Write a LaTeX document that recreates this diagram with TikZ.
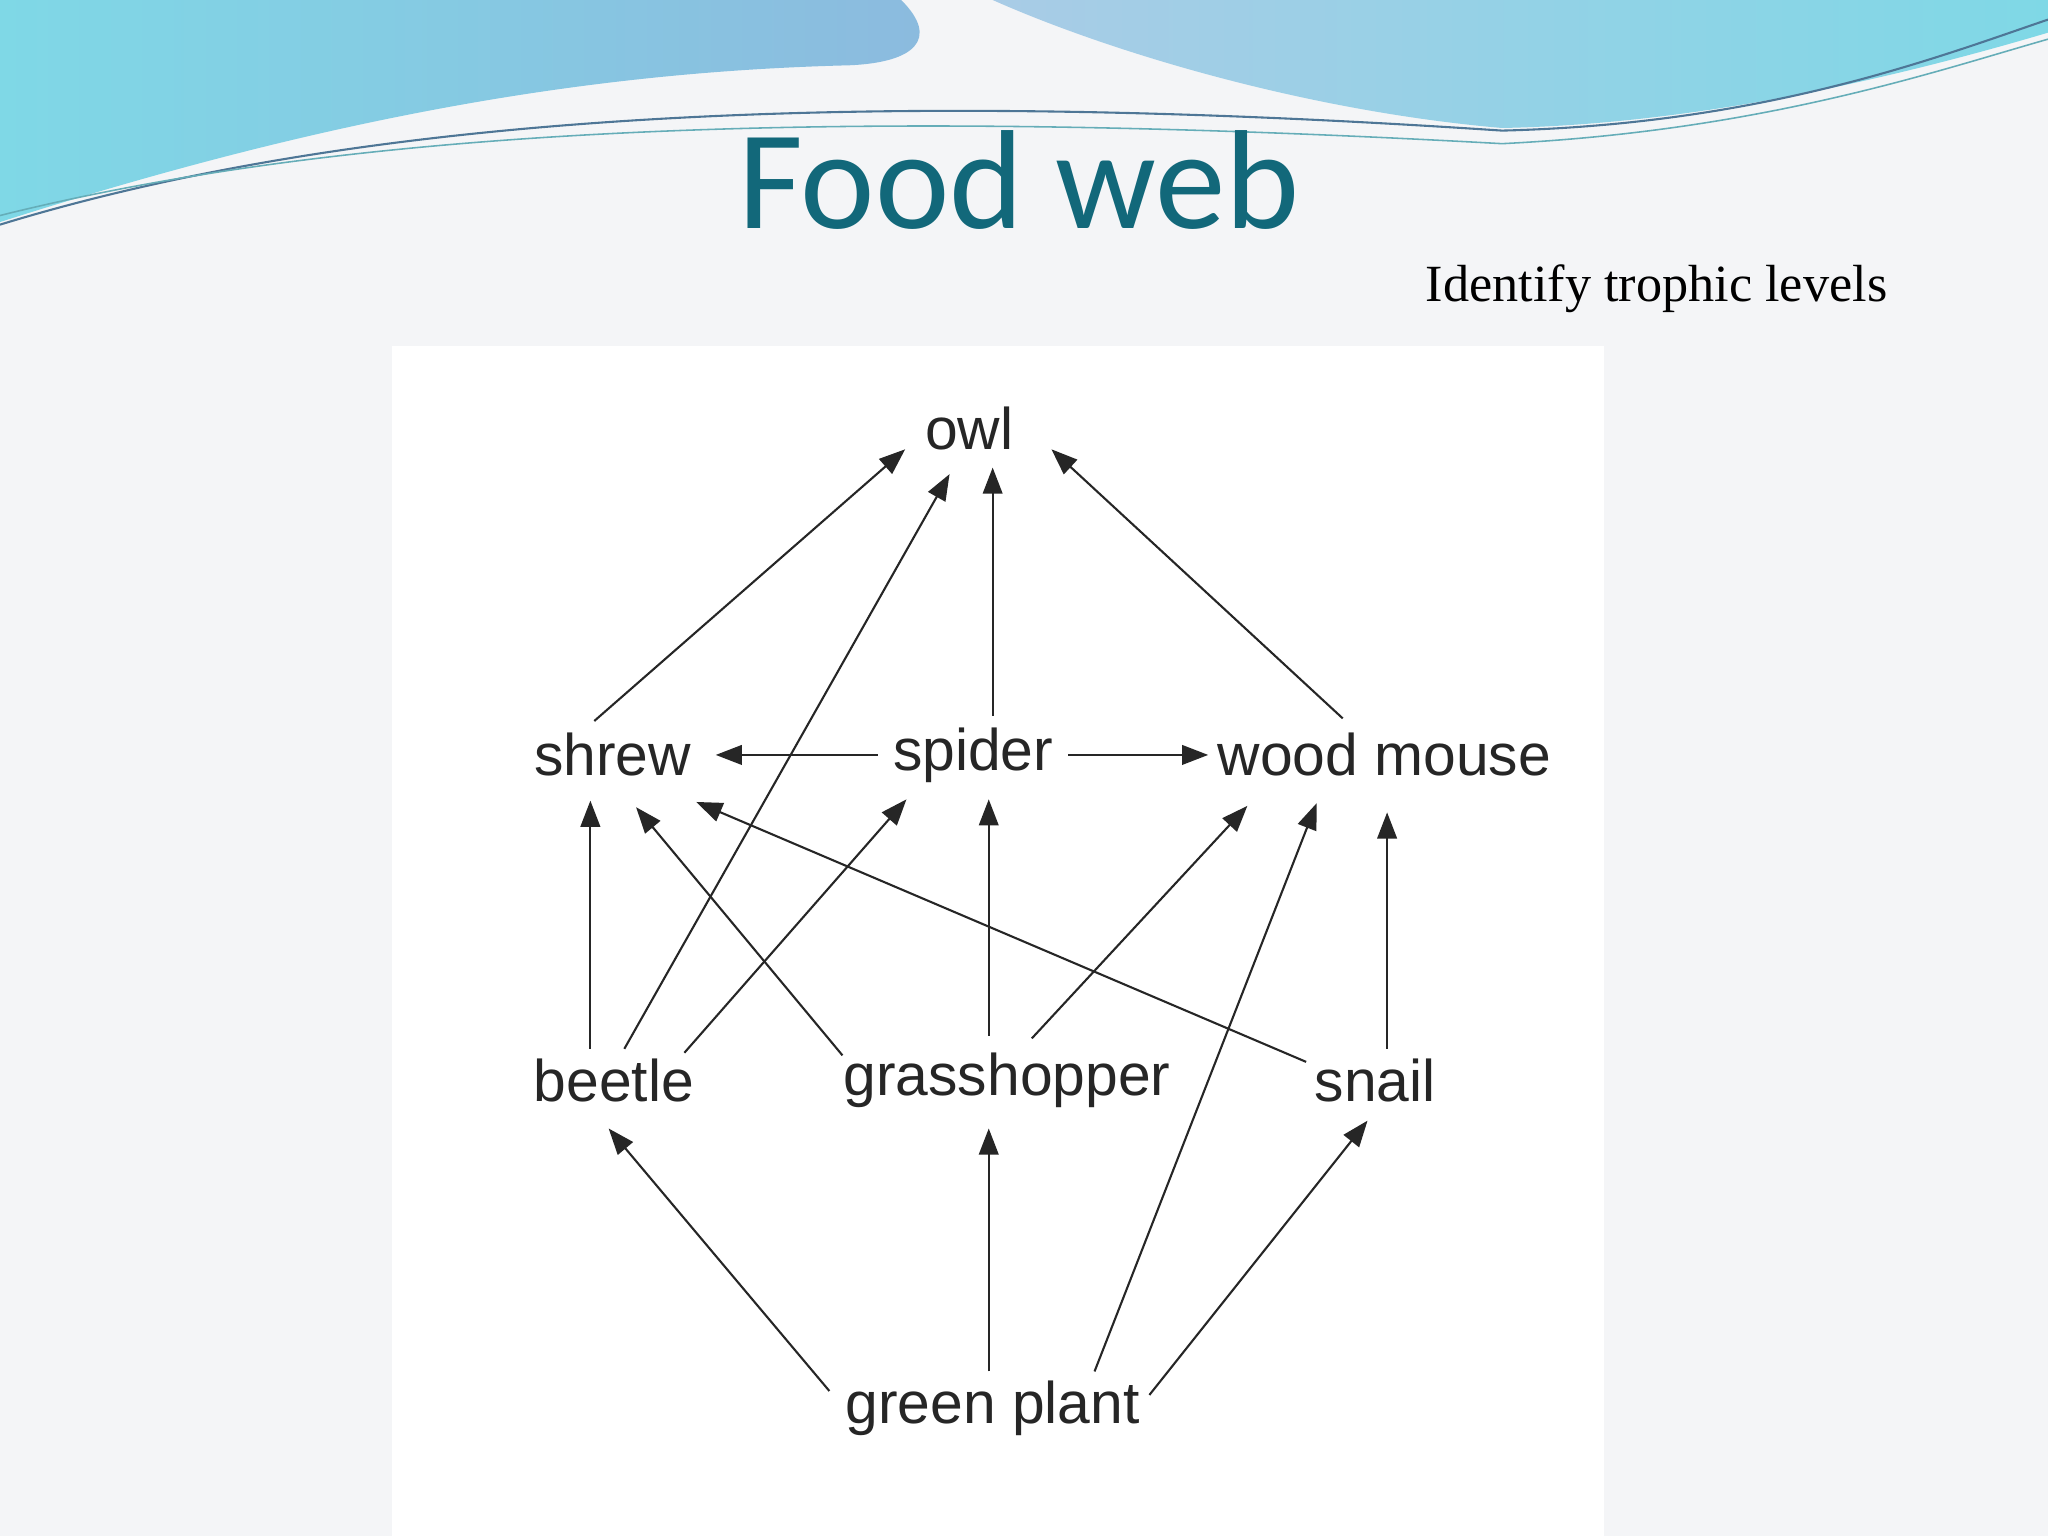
\documentclass[tikz,border=0pt]{standalone}
\usepackage{fontspec}
\setmainfont{Liberation Serif}
\newfontfamily\lab{Liberation Sans}
\newfontfamily\ttl{Carlito}
\usetikzlibrary{calc,arrows.meta}
\definecolor{bg}{HTML}{F4F5F7}
\definecolor{titlec}{HTML}{12687A}
\definecolor{wcyan}{HTML}{7FD8E6}
\definecolor{wblue}{HTML}{6FA9D6}
\tikzset{
  lbl/.style={font=\lab\fontsize{22.5}{24}\selectfont, text=black!85, inner sep=0pt},
  arr/.style={-{Triangle[length=10pt,width=7.5pt]}, line width=0.8pt, black!85}
}
\newcommand{\arw}[6]{\draw[arr] ($(#1)+(#2,#3)$) -- ($(#4)+(#5,#6)$);}
\begin{document}
\begin{tikzpicture}[x=0.5pt,y=-0.5pt]
\useasboundingbox (0,0) rectangle (1568,1176);
\fill[bg] (0,0) rectangle (1568,1176);
% header waves
\shade[left color=wcyan, right color=wblue!80] (0,0) -- (0,170) .. controls (250,90) and (450,55) .. (650,50) .. controls (700,48) and (720,30) .. (690,0) -- cycle;
\shade[left color=wblue!60, right color=wcyan] (760,0) .. controls (850,40) and (1000,85) .. (1150,98) .. controls (1300,95) and (1450,60) .. (1568,25) -- (1568,0) -- cycle;
\draw[wblue!70!black, line width=0.8pt] (0,172) .. controls (300,80) and (700,70) .. (1150,100) .. controls (1350,95) and (1480,45) .. (1568,15);
\draw[wcyan!80!black, line width=0.6pt] (0,165) .. controls (300,90) and (700,85) .. (1150,110) .. controls (1350,100) and (1480,55) .. (1568,30);
% title
\node[font=\ttl\fontsize{54}{60}\selectfont, text=titlec] (title) at (780,138) {Food web};
\node[font=\fontsize{20}{22}\selectfont, anchor=east] (sub) at (1452,221) {Identify trophic levels};
% diagram panel
\fill[white] (300,265) rectangle (1228,1176);
\node[lbl] (owl) at (742,328) {owl};
\node[lbl] (shrew) at (469,578) {shrew};
\node[lbl] (spider) at (745,578) {spider};
\node[lbl] (wm) at (1060,578) {wood mouse};
\node[lbl] (beetle) at (470,827) {beetle};
\node[lbl] (gh) at (771,827) {grasshopper};
\node[lbl] (snail) at (1053,827) {snail};
\node[lbl] (gp) at (760,1078) {green plant};
\arw{shrew}{-14}{-26}{owl}{-49}{16}
\arw{beetle}{8}{-24}{owl}{-15}{35}
\arw{spider}{15}{-30}{owl}{18}{30}
\arw{wm}{-32}{-28}{owl}{63}{16}
\arw{spider}{-73}{0}{shrew}{79}{0}
\arw{spider}{73}{0}{wm}{-135}{0}
\arw{beetle}{-18}{-24}{shrew}{-17}{35}
\arw{gh}{-126}{-19}{shrew}{18}{40}
\arw{snail}{-53}{-14}{shrew}{64}{36}
\arw{beetle}{54}{-21}{spider}{-51}{34}
\arw{gh}{-14}{-34}{spider}{12}{34}
\arw{gh}{19}{-32}{wm}{-105}{39}
\arw{gp}{78}{-28}{wm}{-52}{37}
\arw{snail}{9}{-24}{wm}{2}{44}
\arw{gp}{-125}{-13}{beetle}{-4}{37}
\arw{gp}{-3}{-28}{gh}{-14}{37}
\arw{gp}{120}{-10}{snail}{-6}{31}
\end{tikzpicture}
\end{document}
